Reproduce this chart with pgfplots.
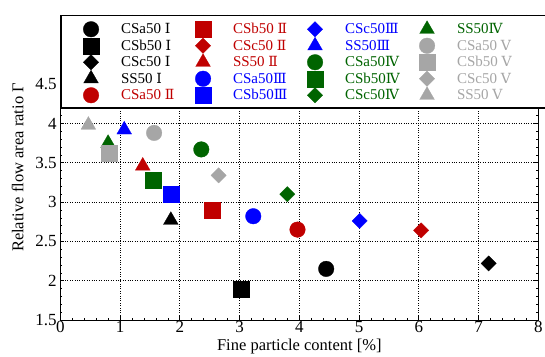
\documentclass[border=0pt]{standalone}
\usepackage{fontspec}
\setmainfont{Liberation Serif}
\newfontfamily\rom{DejaVu Serif}
\usepackage{pgfplots}
\pgfplotsset{compat=1.18}
\definecolor{cred}{RGB}{192,0,0}
\definecolor{cblue}{RGB}{0,0,255}
\definecolor{cgreen}{RGB}{0,100,0}
\definecolor{cgray}{RGB}{166,166,166}
\pgfplotsset{
  pc/.style={only marks, mark=*, mark size=7.8, color=#1, mark options={draw=#1, fill=#1, line width=0.3pt}},
  ps/.style={only marks, mark=square*, mark size=8, color=#1, mark options={draw=#1, fill=#1, line width=0.3pt}},
  pd/.style={only marks, mark=square*, mark size=5.4, color=#1, mark options={draw=#1, fill=#1, rotate=45, line width=0.3pt}},
  pt/.style={only marks, mark=triangle*, mark size=8.5, color=#1, mark options={draw=#1, fill=#1, line width=0.3pt}},
}
\newcommand{\lt}[3]{\makebox[92pt][l]{\hspace{20pt}\textcolor{#1}{#2{\rom\fontsize{14}{15}\selectfont #3}}}}
\begin{document}
\begin{tikzpicture}
\begin{axis}[
  scale only axis, width=478pt, height=305pt, at={(0,0)}, anchor=south west,
  xmin=0, xmax=8, ymin=1.5, ymax=5.38,
  xtick={0,1,2,3,4,5,6,7,8},
  ytick={1.5,2,2.5,3,3.5,4,4.5},
  minor x tick num=4, minor y tick num=4,
  grid=major, grid style={dotted, black, line width=0.8pt},
  axis line style={black, line width=0.9pt},
  tick style={black, line width=0.6pt}, major tick length=4pt, minor tick length=2pt,
  tick label style={font=\fontsize{17}{19}\selectfont},
  xticklabel style={inner sep=1pt},
  yticklabel style={inner sep=3.5pt},
  /pgf/number format/assume math mode=true,
  label style={font=\fontsize{16.5}{18}\selectfont},
  xlabel={Fine particle content [\%]},
  ylabel={Relative flow area ratio Γ},
  xlabel style={at={(axis description cs:0.5,-0.1016)}, anchor=base},
  ylabel style={at={(axis description cs:-0.0774,0.5)}, anchor=base, rotate=0},
  legend style={at={(0,1)}, anchor=north west, draw=black, line width=1.5pt, fill=white,
    font=\fontsize{15}{16}\selectfont, row sep=0pt, inner xsep=22pt, inner ysep=5pt},
  legend cell align=left,
  transpose legend, legend columns=5,
]
\addplot[pc=black] coordinates {(4.45,2.15)}; \addlegendentry{\lt{black}{CSa50 }{Ⅰ}}
\addplot[ps=black] coordinates {(3.02,1.89)}; \addlegendentry{\lt{black}{CSb50 }{Ⅰ}}
\addplot[pd=black] coordinates {(7.17,2.22)}; \addlegendentry{\lt{black}{CSc50 }{Ⅰ}}
\addplot[pt=black] coordinates {(1.85,2.77)}; \addlegendentry{\lt{black}{SS50 }{Ⅰ}}
\addplot[pc=cred] coordinates {(3.97,2.65)}; \addlegendentry{\lt{cred}{CSa50 }{Ⅱ}}
\addplot[ps=cred] coordinates {(2.54,2.90)}; \addlegendentry{\lt{cred}{CSb50 }{Ⅱ}}
\addplot[pd=cred] coordinates {(6.04,2.64)}; \addlegendentry{\lt{cred}{CSc50 }{Ⅱ}}
\addplot[pt=cred] coordinates {(1.38,3.46)}; \addlegendentry{\lt{cred}{SS50 }{Ⅱ}}
\addplot[pc=cblue] coordinates {(3.23,2.82)}; \addlegendentry{\lt{cblue}{CSa50}{Ⅲ}}
\addplot[ps=cblue] coordinates {(1.85,3.10)}; \addlegendentry{\lt{cblue}{CSb50}{Ⅲ}}
\addplot[pd=cblue] coordinates {(5.01,2.76)}; \addlegendentry{\lt{cblue}{CSc50}{Ⅲ}}
\addplot[pt=cblue] coordinates {(1.07,3.92)}; \addlegendentry{\lt{cblue}{SS50}{Ⅲ}}
\addplot[pc=cgreen] coordinates {(2.36,3.67)}; \addlegendentry{\lt{cgreen}{CSa50}{Ⅳ}}
\addplot[ps=cgreen] coordinates {(1.55,3.28)}; \addlegendentry{\lt{cgreen}{CSb50}{Ⅳ}}
\addplot[pd=cgreen] coordinates {(3.80,3.10)}; \addlegendentry{\lt{cgreen}{CSc50}{Ⅳ}}
\addplot[pt=cgreen] coordinates {(0.80,3.75)}; \addlegendentry{\lt{cgreen}{SS50}{Ⅳ}}
\addplot[pc=cgray] coordinates {(1.57,3.88)}; \addlegendentry{\lt{cgray}{CSa50 }{Ⅴ}}
\addplot[ps=cgray] coordinates {(0.82,3.62)}; \addlegendentry{\lt{cgray}{CSb50 }{Ⅴ}}
\addplot[pd=cgray] coordinates {(2.65,3.34)}; \addlegendentry{\lt{cgray}{CSc50 }{Ⅴ}}
\addplot[pt=cgray] coordinates {(0.47,3.98)}; \addlegendentry{\lt{cgray}{SS50 }{Ⅴ}}
\end{axis}
\pgfresetboundingbox
\path (-60.3pt,-36pt) rectangle (484.7pt,320pt);
\end{tikzpicture}
\end{document}
